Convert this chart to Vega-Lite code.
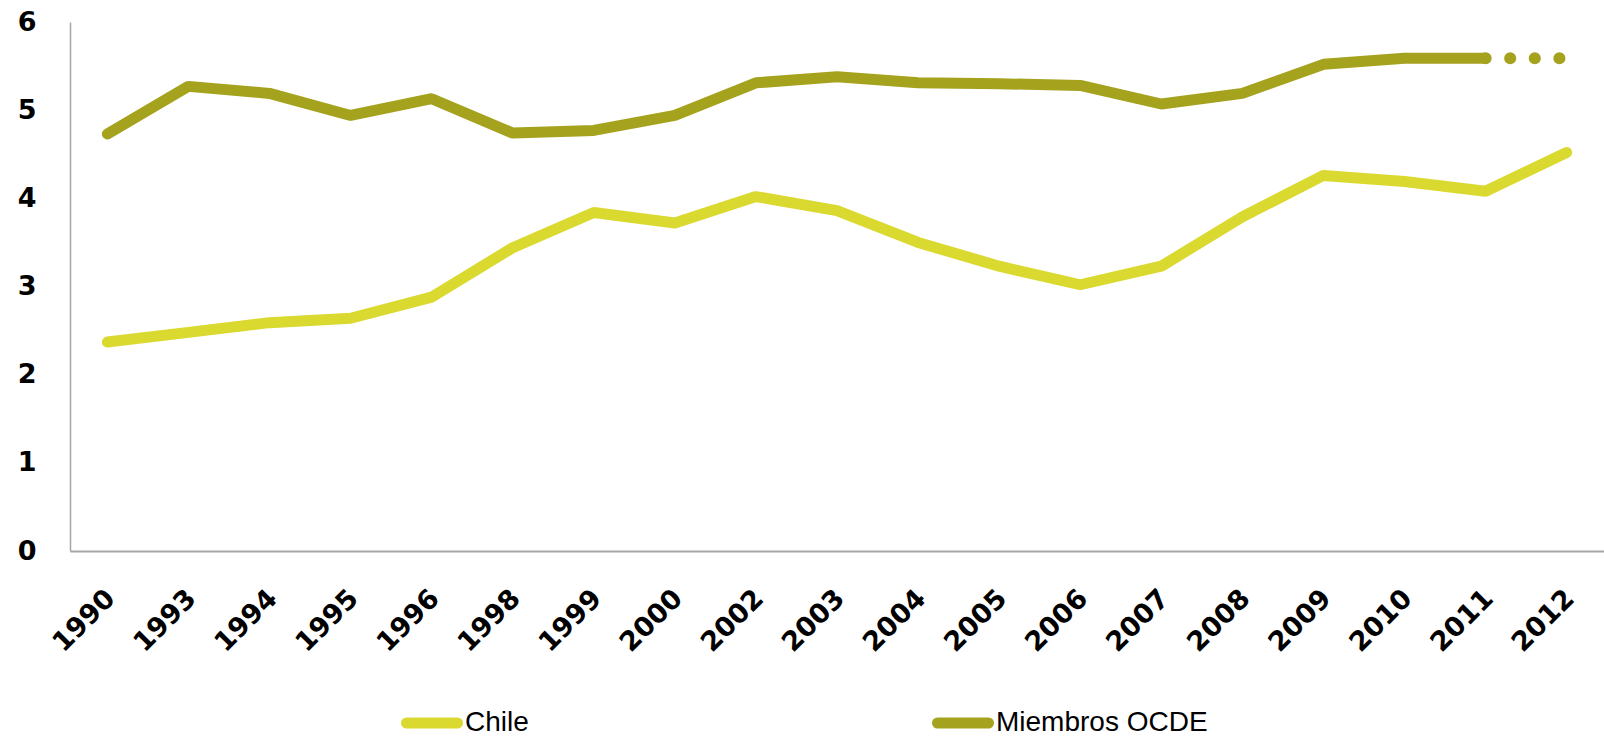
{
  "$schema": "https://vega.github.io/schema/vega-lite/v6.json",
  "width": 1534,
  "height": 529,
  "autosize": "none",
  "padding": {"left": 70, "top": 22, "right": 0, "bottom": 185},
  "background": "white",
  "config": {
    "view": {"stroke": null},
    "font": "Liberation Sans",
    "axis": {"grid": false, "ticks": false, "tickSize": 0, "domainColor": "#a6a6a6", "labelColor": "#000000", "labelFont": "DejaVu Sans", "labelFontWeight": "bold", "labelFontSize": 27, "title": null}
  },
  "data": {
    "values": [
      {"year": "1990", "serie": "Chile", "value": 2.37},
      {"year": "1993", "serie": "Chile", "value": 2.48},
      {"year": "1994", "serie": "Chile", "value": 2.59},
      {"year": "1995", "serie": "Chile", "value": 2.64},
      {"year": "1996", "serie": "Chile", "value": 2.88},
      {"year": "1998", "serie": "Chile", "value": 3.44},
      {"year": "1999", "serie": "Chile", "value": 3.84},
      {"year": "2000", "serie": "Chile", "value": 3.72},
      {"year": "2002", "serie": "Chile", "value": 4.02},
      {"year": "2003", "serie": "Chile", "value": 3.86},
      {"year": "2004", "serie": "Chile", "value": 3.5},
      {"year": "2005", "serie": "Chile", "value": 3.23},
      {"year": "2006", "serie": "Chile", "value": 3.02},
      {"year": "2007", "serie": "Chile", "value": 3.23},
      {"year": "2008", "serie": "Chile", "value": 3.79},
      {"year": "2009", "serie": "Chile", "value": 4.26},
      {"year": "2010", "serie": "Chile", "value": 4.19},
      {"year": "2011", "serie": "Chile", "value": 4.08},
      {"year": "2012", "serie": "Chile", "value": 4.52},
      {"year": "1990", "serie": "Miembros OCDE", "value": 4.73},
      {"year": "1993", "serie": "Miembros OCDE", "value": 5.27},
      {"year": "1994", "serie": "Miembros OCDE", "value": 5.19},
      {"year": "1995", "serie": "Miembros OCDE", "value": 4.94},
      {"year": "1996", "serie": "Miembros OCDE", "value": 5.13},
      {"year": "1998", "serie": "Miembros OCDE", "value": 4.74},
      {"year": "1999", "serie": "Miembros OCDE", "value": 4.77},
      {"year": "2000", "serie": "Miembros OCDE", "value": 4.94},
      {"year": "2002", "serie": "Miembros OCDE", "value": 5.31},
      {"year": "2003", "serie": "Miembros OCDE", "value": 5.38},
      {"year": "2004", "serie": "Miembros OCDE", "value": 5.31},
      {"year": "2005", "serie": "Miembros OCDE", "value": 5.3},
      {"year": "2006", "serie": "Miembros OCDE", "value": 5.28},
      {"year": "2007", "serie": "Miembros OCDE", "value": 5.07},
      {"year": "2008", "serie": "Miembros OCDE", "value": 5.19},
      {"year": "2009", "serie": "Miembros OCDE", "value": 5.52},
      {"year": "2010", "serie": "Miembros OCDE", "value": 5.59},
      {"year": "2011", "serie": "Miembros OCDE", "value": 5.59},
      {"year": "2012", "serie": "Miembros OCDE", "value": 5.59}
    ]
  },
  "encoding": {
    "x": {
      "field": "year",
      "type": "ordinal",
      "scale": {"type": "point", "padding": 0.461},
      "axis": {"labelAngle": -45, "labelAlign": "right", "labelBaseline": "middle", "labelPadding": 43, "labelOffset": 3, "domainWidth": 2}
    },
    "y": {
      "field": "value",
      "type": "quantitative",
      "scale": {"domain": [0, 6], "nice": false, "zero": true},
      "axis": {"values": [0, 1, 2, 3, 4, 5, 6], "labelPadding": 34, "domainWidth": 1.5}
    }
  },
  "layer": [
    {
      "transform": [{"filter": "datum.serie == 'Chile' || toNumber(datum.year) <= 2011"}],
      "mark": {"type": "line", "strokeWidth": 11, "strokeCap": "round", "strokeJoin": "bevel"},
      "encoding": {
        "color": {
          "field": "serie",
          "type": "nominal",
          "scale": {"domain": ["Chile", "Miembros OCDE"], "range": ["#dad92f", "#a5a21e"]},
          "legend": {
            "title": null,
            "orient": "none",
            "direction": "horizontal",
            "legendX": 331,
            "legendY": 670,
            "symbolType": "stroke",
            "symbolSize": 2601,
            "symbolStrokeWidth": 11,
            "labelFont": "Liberation Sans",
            "labelFontSize": 28,
            "labelFontWeight": "normal",
            "labelColor": "#000000",
            "labelOffset": 2,
            "columnPadding": 386,
            "padding": 0,
            "symbolOpacity": 1,
            "labelLimit": 400,
            "encode": {"symbols": {"update": {"strokeCap": {"value": "round"}}}}
          }
        }
      }
    },
    {
      "transform": [{"filter": "datum.serie == 'Miembros OCDE' && toNumber(datum.year) >= 2011"}],
      "mark": {"type": "line", "strokeWidth": 12, "strokeCap": "round", "strokeDash": [0.1, 24.5], "color": "#a5a21e"},
      "encoding": {}
    }
  ]
}
